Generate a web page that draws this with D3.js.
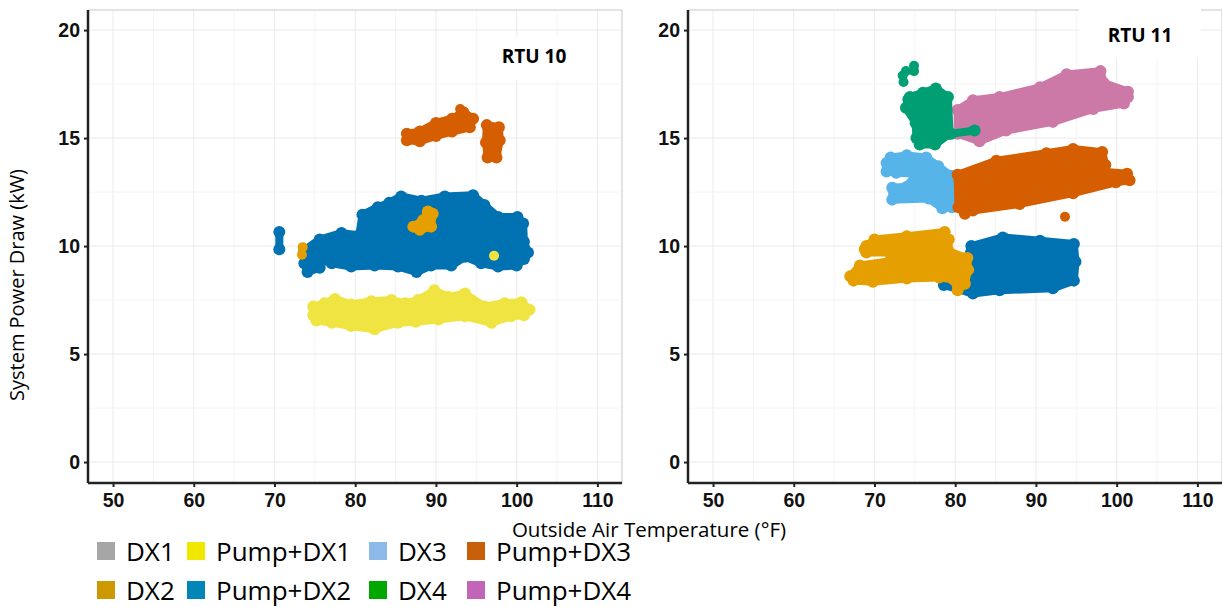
<!DOCTYPE html>
<html>
<head>
<meta charset="utf-8">
<script src="https://cdn.jsdelivr.net/npm/d3@7"></script>
<style>
  body { margin: 0; background: #fff; }
  svg { display: block; }
</style>
</head>
<body>
<div id="chart"></div>
<script>
// Operating modes, in legend order (two rows, four columns)
var modes = ["DX1", "Pump+DX1", "DX3", "Pump+DX3", "DX2", "Pump+DX2", "DX4", "Pump+DX4"];
var legendColors = ["#a6a6a6", "#f0e800", "#8cb9e8", "#c85f0a", "#cc9a00", "#0087b8", "#00a800", "#c264b8"];
var pointColors = {
  "DX1": "#999999", "Pump+DX1": "#f0e442", "DX3": "#56b4e9", "Pump+DX3": "#d55e00",
  "DX2": "#e69f00", "Pump+DX2": "#0072b2", "DX4": "#009e73", "Pump+DX4": "#cc79a7"
};

var xTicks = [50, 60, 70, 80, 90, 100, 110];
var yTicks = [0, 5, 10, 15, 20];

// RTU 10 point clouds, outlines of the dense clusters (OAT degF, kW)
var rtu10PumpDX1 = [[74.8,7.2],[76.2,7.35],[77.5,7.55],[79.5,7.3],[82,7.45],[84.5,7.5],[86.2,7.35],[87.8,7.5],[89.8,7.95],[91.5,7.65],[93.6,7.8],
  [96.0,7.2],[98.5,7.35],[100.6,7.4],[101.6,7.05],[100.9,6.8],[99.3,6.75],[96.9,6.45],[93.6,6.75],[90.3,6.6],
  [87.5,6.5],[85.3,6.45],[82.4,6.15],[79.5,6.3],[77.1,6.45],[75.2,6.55],[74.8,6.8]];
var rtu10PumpDX2 = [[73.7,9.8],[75.6,10.3],[78.3,10.6],[80.5,10.5],[80.9,11.45],[82.8,11.8],[84.2,12.0],[85.7,12.3],[88.2,12.1],
  [91.1,12.3],[94.6,12.35],[96.0,11.9],[97.7,11.35],[100.1,11.35],[100.8,11.05],[100.9,10.2],[101.4,9.7],[100.9,9.4],
  [100.0,9.1],[97.7,9.05],[95.6,9.2],[93.6,9.5],[91.9,9.1],[89.4,9.1],[87.6,8.8],[85.3,9.05],[82.4,9.1],[79.5,9.05],
  [77.1,9.2],[76.0,9.35],[75.6,9.0],[74.1,8.8],[73.7,9.2]];
var rtu10PumpDX2b = [[70.6,9.85],[70.6,10.65]];
var rtu10DX2 = [[87.2,10.9],[88.4,11.2],[89.0,11.6],[89.6,11.5],[89.4,10.9],[88.0,10.75]];
var rtu10PumpDX3 = [[86.4,14.9],[88,14.85],[90,15.1],[92,15.3],[94.2,15.5],[94.6,15.9],[93.4,16.2],[92,15.9],[90,15.7],[88,15.3],[86.4,15.2]];
var rtu10PumpDX3b = [[96.3,15.6],[97.8,15.5],[97.9,14.9],[97.5,14.1],[96.4,14.1],[96.2,14.8]];
var rtu10Singles = [["Pump+DX1",97.2,9.55],["Pump+DX3",93.0,16.35],["DX2",73.5,9.95],["DX2",73.4,9.6]];

// RTU 11 point clouds
var rtu11DX2 = [[69.0,10.0],[70.0,10.3],[74.0,10.45],[78.7,10.65],[79.2,10.3],[79.2,9.75],[81.5,9.45],[81.6,8.9],
  [81.2,8.25],[80.3,7.95],[79.8,8.45],[78.0,8.55],[74.0,8.5],[69.8,8.35],[67.4,8.4],[67.0,8.6],[68.2,9.1],[71.9,9.3],
  [74.0,9.6],[71.9,9.7],[69.0,9.7],[68.8,9.85]];
var rtu11PumpDX2 = [[82.0,10.0],[85.9,10.4],[90.5,10.25],[94.7,10.1],[94.9,9.27],[94.7,8.4],[92.1,8.05],[85.5,7.95],
  [82.2,7.8],[78.6,8.2],[78.3,8.5],[79.5,8.7],[81.4,9.4]];
var rtu11DX3 = [[71.5,13.85],[72.0,14.1],[74.0,14.2],[76.4,14.1],[77.9,13.7],[79.5,13.25],[79.6,11.8],[78.4,11.75],
  [76.7,12.2],[72.2,12.15],[72.2,12.7],[74.0,12.75],[75.2,13.35],[72.7,13.4],[71.5,13.45]];
var rtu11PumpDX3 = [[80.3,13.3],[85.1,13.95],[91.3,14.3],[94.6,14.5],[98.2,14.35],[98.6,13.75],[98.0,13.45],[101.3,13.35],
  [101.6,13.05],[99.9,12.95],[94.6,12.45],[88.0,11.95],[82.2,11.65],[81.2,11.5],[80.4,11.8]];
var rtu11PumpDX4 = [[80.3,16.3],[82.2,16.75],[85.5,16.9],[90.5,17.35],[93.8,17.95],[98.0,18.1],[98.4,17.55],[101.4,17.15],
  [101.4,16.9],[100.9,16.6],[97.1,16.35],[92.1,15.75],[86.3,15.35],[83.0,14.85],[80.3,15.2]];
var rtu11DX4 = [[74.4,16.9],[76.0,17.1],[77.6,17.3],[79.1,16.9],[79.3,15.2],[77.5,14.7],[75.6,14.7],[75.2,15.0],
  [75.1,15.7],[73.9,16.4],[74.2,16.8]];
var rtu11DX4b = [[79.5,15.2],[82.4,15.35]];
var rtu11Singles = [["Pump+DX3",93.6,11.36],["DX4",73.5,17.9],["DX4",73.6,17.6],["DX4",74.9,18.35],["DX4",74.9,18.1],
  ["DX4",73.9,18.1]];

var svgWidth = 1222;
var svgHeight = 607;

var svg = d3.select("#chart")
  .append("svg")
  .attr("width", svgWidth)
  .attr("height", svgHeight);

var panelTop = 10, panelBottom = 483;
var yScale = d3.scaleLinear().domain([-0.97, 20.93]).range([panelBottom, panelTop]);

function drawPanel(x0, x1, title, titleX, titleY, box, clusters, singles) {
  var xScale = d3.scaleLinear().domain([46.9, 113.05]).range([x0, x1]);
  var g = svg.append("g");

  // grid
  var xMinor = d3.range(45, 115, 5).filter(v => v > 46.9 && v < 113.05);
  var yMinor = d3.range(-2.5, 21, 2.5).filter(v => v > -0.97 && v < 20.93);
  g.selectAll(".vx").data(xMinor).enter().append("line")
    .attr("x1", d => xScale(d)).attr("x2", d => xScale(d))
    .attr("y1", panelTop).attr("y2", panelBottom)
    .attr("stroke", d => d % 10 === 0 ? "#ebebeb" : "#f4f4f4").attr("stroke-width", 1);
  g.selectAll(".hy").data(yMinor).enter().append("line")
    .attr("x1", x0).attr("x2", x1)
    .attr("y1", d => yScale(d)).attr("y2", d => yScale(d))
    .attr("stroke", d => d % 5 === 0 ? "#ebebeb" : "#f4f4f4").attr("stroke-width", 1);

  // panel border
  g.append("rect")
    .attr("x", x0).attr("y", panelTop)
    .attr("width", x1 - x0).attr("height", panelBottom - panelTop)
    .attr("fill", "none").attr("stroke", "#c8c8c8").attr("stroke-width", 1);

  // point clouds
  var line = d3.line().x(d => xScale(d[0])).y(d => yScale(d[1])).curve(d3.curveLinearClosed);
  clusters.forEach(function(c) {
    var col = pointColors[c.mode];
    g.append("path")
      .attr("d", line(c.pts))
      .attr("fill", col).attr("stroke", col)
      .attr("stroke-width", 8).attr("stroke-linejoin", "round").attr("stroke-linecap", "round");
    g.selectAll(null).data(c.pts).enter().append("circle")
      .attr("cx", d => xScale(d[0])).attr("cy", d => yScale(d[1]))
      .attr("r", 6).attr("fill", col);
  });
  g.selectAll(null).data(singles).enter().append("circle")
    .attr("cx", d => xScale(d[1])).attr("cy", d => yScale(d[2]))
    .attr("r", 5).attr("fill", d => pointColors[d[0]]);

  // axes
  var xAxis = d3.axisBottom(xScale).tickValues(xTicks).tickSize(4).tickPadding(6);
  var yAxis = d3.axisLeft(yScale).tickValues(yTicks).tickSize(4).tickPadding(4);
  var gx = g.append("g").attr("transform", `translate(0, ${panelBottom})`).call(xAxis);
  var gy = g.append("g").attr("transform", `translate(${x0}, 0)`).call(yAxis);
  [gx, gy].forEach(function(a) {
    a.select(".domain").attr("stroke", "#222").attr("stroke-width", 2.5);
    a.selectAll(".tick line").attr("stroke", "#222").attr("stroke-width", 2);
    a.selectAll(".tick text")
      .attr("fill", "#111")
      .style("font-family", "'Liberation Sans', Arial, sans-serif")
      .style("font-weight", "bold")
      .style("font-size", "19.5px");
  });
  gx.select(".domain").attr("d", `M${x0},0H${x1}`);
  gy.select(".domain").attr("d", `M0,${panelTop}V${panelBottom}`);

  // title with a white box behind it
  g.append("rect")
    .attr("x", box[0]).attr("y", box[1]).attr("width", box[2]).attr("height", box[3])
    .attr("fill", "#fff");
  g.append("text")
    .attr("x", titleX).attr("y", titleY)
    .attr("text-anchor", "middle")
    .style("font-family", "'Open Sans', sans-serif")
    .style("font-weight", "bold")
    .style("font-size", "19px")
    .text(title);
}

drawPanel(88, 622, "RTU 10", 534, 63, [478, 36, 116, 44], [
  { mode: "Pump+DX1", pts: rtu10PumpDX1 },
  { mode: "Pump+DX2", pts: rtu10PumpDX2 },
  { mode: "Pump+DX2", pts: rtu10PumpDX2b },
  { mode: "DX2", pts: rtu10DX2 },
  { mode: "Pump+DX3", pts: rtu10PumpDX3 },
  { mode: "Pump+DX3", pts: rtu10PumpDX3b }
], rtu10Singles);

drawPanel(688, 1222, "RTU 11", 1140, 42, [1079, 0, 122, 58], [
  { mode: "Pump+DX2", pts: rtu11PumpDX2 },
  { mode: "DX2", pts: rtu11DX2 },
  { mode: "DX3", pts: rtu11DX3 },
  { mode: "Pump+DX3", pts: rtu11PumpDX3 },
  { mode: "Pump+DX4", pts: rtu11PumpDX4 },
  { mode: "DX4", pts: rtu11DX4 },
  { mode: "DX4", pts: rtu11DX4b }
], rtu11Singles);

// axis titles
svg.append("text")
  .attr("transform", "translate(24, 285) rotate(-90)")
  .attr("text-anchor", "middle")
  .style("font-family", "'Open Sans', sans-serif")
  .style("font-size", "20px")
  .text("System Power Draw (kW)");

svg.append("text")
  .attr("x", 649).attr("y", 537)
  .attr("text-anchor", "middle")
  .style("font-family", "'Open Sans', sans-serif")
  .style("font-size", "20.5px")
  .text("Outside Air Temperature (°F)");

// legend: two rows, filled by column
var legendCols = [97, 187, 369, 467];
var legend = svg.append("g");
var items = legend.selectAll("g").data(modes).enter().append("g")
  .attr("transform", (d, i) => `translate(${legendCols[i % 4]}, ${542 + Math.floor(i / 4) * 39})`);
items.append("rect")
  .attr("width", 18).attr("height", 18)
  .attr("fill", (d, i) => legendColors[i]);
items.append("text")
  .attr("x", 29).attr("y", 19)
  .style("font-family", "'Open Sans', sans-serif")
  .style("font-size", "26px")
  .text(d => d);
</script>
</body>
</html>
